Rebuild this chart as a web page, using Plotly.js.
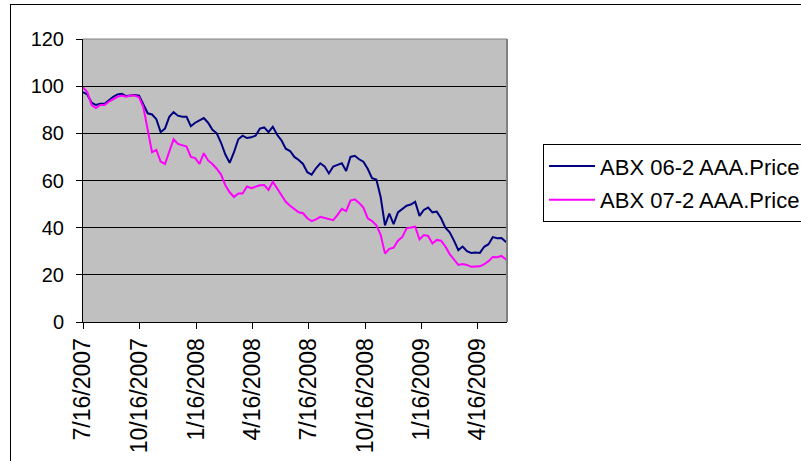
<!DOCTYPE html>
<html>
<head>
<meta charset="utf-8">
<script src="https://cdn.plot.ly/plotly-3.0.1.min.js"></script>
<style>
  html, body { margin: 0; padding: 0; background: #ffffff; overflow: hidden; }
  #frame { position: absolute; left: 10px; top: 4px; width: 820px; height: 480px;
           border-left: 1px solid #000; border-top: 1px solid #000; }
  #chart { position: absolute; left: 0; top: 0; width: 801px; height: 461px; }
</style>
</head>
<body>
<div id="frame"></div>
<div id="chart"></div>
<script>
// Weekly sample dates
const dates = [
  "2007-07-16","2007-07-23","2007-07-30","2007-08-06","2007-08-13","2007-08-20","2007-08-27","2007-09-03",
  "2007-09-10","2007-09-17","2007-09-24","2007-10-01","2007-10-08","2007-10-15","2007-10-22","2007-10-29",
  "2007-11-05","2007-11-12","2007-11-19","2007-11-26","2007-12-03","2007-12-10","2007-12-17","2007-12-24",
  "2007-12-31","2008-01-07","2008-01-14","2008-01-21","2008-01-28","2008-02-04","2008-02-11","2008-02-18",
  "2008-02-25","2008-03-03","2008-03-10","2008-03-17","2008-03-24","2008-03-31","2008-04-07","2008-04-14",
  "2008-04-21","2008-04-28","2008-05-05","2008-05-12","2008-05-19","2008-05-26","2008-06-02","2008-06-09",
  "2008-06-16","2008-06-23","2008-06-30","2008-07-07","2008-07-14","2008-07-21","2008-07-28","2008-08-04",
  "2008-08-11","2008-08-18","2008-08-25","2008-09-01","2008-09-08","2008-09-15","2008-09-22","2008-09-29",
  "2008-10-06","2008-10-13","2008-10-20","2008-10-27","2008-11-03","2008-11-10","2008-11-17","2008-11-24",
  "2008-12-01","2008-12-08","2008-12-15","2008-12-22","2008-12-29","2009-01-05","2009-01-12","2009-01-19",
  "2009-01-26","2009-02-02","2009-02-09","2009-02-16","2009-02-23","2009-03-02","2009-03-09","2009-03-16",
  "2009-03-23","2009-03-30","2009-04-06","2009-04-13","2009-04-20","2009-04-27","2009-05-04","2009-05-11",
  "2009-05-18","2009-05-25","2009-06-01","2009-06-03"
];

const abx062 = [
  97.5, 96.5, 93, 92, 92.5, 92.5, 94, 95.5,
  96.5, 96.8, 95.8, 96.2, 96.3, 96, 92, 88.5,
  88, 86, 80.5, 82, 87, 89, 87.5, 87,
  87, 83, 84.5, 85.5, 86.5, 84.5, 81.5, 80,
  76, 71, 67.5, 72, 77.5, 79, 78, 78.3,
  79, 82, 82.5, 80.5, 82.8, 79.4, 77, 73.5,
  72.5, 70, 68.7, 67, 63.5, 62.5, 65.2, 67.3,
  66, 63, 65.9, 66.6, 67.3, 64, 70, 70.5,
  69, 68, 65, 61, 60.4, 53, 41, 46,
  41.5, 46.5, 48, 49.3, 49.8, 51, 45, 47.5,
  48.5, 46.5, 46.8, 44, 40, 38, 34.5, 30.5,
  32, 30, 29.3, 29.5, 29.3, 31.9, 33, 36,
  35.5, 35.6, 34, 34
];

const abx072 = [
  99.5, 97.5, 92, 90.7, 92, 92, 93.5, 94.5,
  95.5, 96, 95.5, 96, 96, 95.3, 91, 81.5,
  72, 73, 68, 67, 72, 77.5, 75.5, 75,
  74.4, 70, 69.5, 67, 71.6, 68.5, 67, 65,
  62.5, 58, 55, 53, 54.5, 54.5, 57.5, 56.7,
  57.4, 58, 58.1, 56, 59.5, 56.5, 54, 51,
  49.3, 48, 46.5, 46.1, 44, 42.8, 43.5, 44.6,
  44.2, 43.9, 43.2, 45.4, 48, 47, 51.5, 52,
  50.5, 48.5, 44, 42.8, 41, 37, 29, 31,
  31.5, 34.5, 36, 39.7, 40, 40.4, 35, 36.9,
  36.5, 33.3, 34.8, 34.5, 32, 28.8, 26.5, 24.2,
  24.6, 24.2, 23.4, 23.4, 23.6, 24.5, 25.8, 27.6,
  27.5, 28, 26.3, 26.2
];

const seriesNames = ["ABX 06-2 AAA.Price", "ABX 07-2 AAA.Price"];
const tickDates = ["2007-07-16","2007-10-16","2008-01-16","2008-04-16","2008-07-16","2008-10-16","2009-01-16","2009-04-16"];
const tickLabels = ["7/16/2007","10/16/2007","1/16/2008","4/16/2008","7/16/2008","10/16/2008","1/16/2009","4/16/2009"];
const yTicks = [0, 20, 40, 60, 80, 100, 120];

const FONT = "Arial, 'Liberation Sans', sans-serif";

const traces = [
  { x: dates, y: abx062, type: "scatter", mode: "lines", name: seriesNames[0], legendgroup: "a",
    line: { color: "#000080", width: 2 } },
  { x: dates, y: abx072, type: "scatter", mode: "lines", name: seriesNames[1], legendgroup: "b",
    line: { color: "#FF00FF", width: 2 } }
];

const layout = {
  width: 801, height: 461,
  margin: { l: 83, r: 294, t: 39, b: 139, autoexpand: false },
  paper_bgcolor: "rgba(0,0,0,0)",
  plot_bgcolor: "#C0C0C0",
  font: { family: FONT, size: 20, color: "#000" },
  showlegend: true,
  legend: {
    x: 1.085, y: 0.628, xanchor: "left", yanchor: "top",
    bgcolor: "#FFFFFF", bordercolor: "#000000", borderwidth: 1,
    font: { family: FONT, size: 22, color: "#000" },
    traceorder: "grouped", tracegroupgap: 2, itemwidth: 46
  },
  xaxis: {
    type: "date",
    range: ["2007-07-16", "2009-06-03"],
    tickmode: "array", tickvals: tickDates, ticktext: tickLabels,
    tickangle: -90,
    ticks: "outside", ticklen: 6, tickcolor: "#000", tickwidth: 1,
    showgrid: false, zeroline: false,
    showline: true, linecolor: "#000", linewidth: 1,
    tickfont: { family: FONT, size: 23, color: "#000" }
  },
  yaxis: {
    range: [0, 120],
    tickmode: "array", tickvals: yTicks,
    ticks: "outside", ticklen: 6, tickcolor: "#000", tickwidth: 1,
    showgrid: true, gridcolor: "#000", gridwidth: 1,
    zeroline: false,
    showline: true, linecolor: "#000", linewidth: 1,
    ticklabelstandoff: 8,
    tickfont: { family: FONT, size: 20, color: "#000" }
  },
  shapes: [
    { type: "line", xref: "paper", yref: "paper", x0: 0, x1: 1, y0: 1, y1: 1,
      line: { color: "#808080", width: 1 }, layer: "above" },
    { type: "line", xref: "paper", yref: "paper", x0: 1, x1: 1, y0: 0, y1: 1,
      line: { color: "#808080", width: 2 }, layer: "above" }
  ]
};

Plotly.newPlot("chart", traces, layout, { displayModeBar: false, staticPlot: true }).then(function (gd) {
  // lengthen the legend line samples to match the reference
  gd.querySelectorAll(".legend .legendlines path").forEach(function (p) {
    p.setAttribute("d", "M5,0h46");
  });
});
</script>
</body>
</html>
